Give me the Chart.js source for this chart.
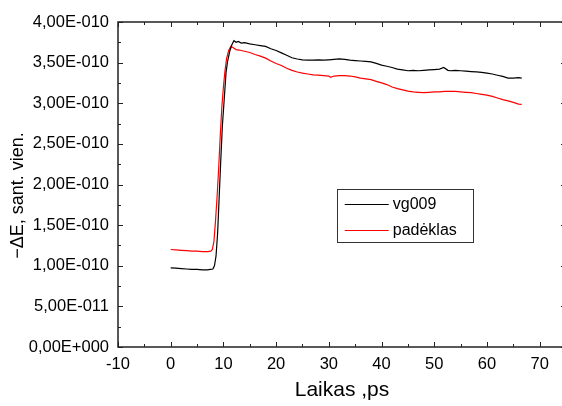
<!DOCTYPE html>
<html>
<head>
<meta charset="utf-8">
<script src="https://cdn.jsdelivr.net/npm/chart.js@4.4.1/dist/chart.umd.min.js"></script>
<style>
  html, body { margin: 0; padding: 0; background: #fff; overflow: hidden; }
  #wrap { width: 566px; height: 406px; position: relative; }
</style>
</head>
<body>
<div id="wrap"><canvas id="c"></canvas></div>
<script>
// ---- data (values in units of 1E-010) ----
const seriesNames = ['vg009', 'padėklas'];
const blackT = [0,1,2,3,4,5,6,7,7.5,8,8.3,8.6,8.9,9.2,9.5,9.8,10.1,10.5,10.8,11.2,11.6,12.0,12.4,12.8,13.4,14,15,16,17,18,19,20,21,22,23,24,25,26,27,28,29,30,31,32,33,34,35,36,37,38,39,40,41,42,43,44,45,46,47,48,49,50,51,51.8,52.6,53,54,55,56,57,58,59,60,61,62,63,64,65,66,66.6];
const blackV = [0.975,0.97,0.965,0.96,0.955,0.955,0.95,0.95,0.955,0.96,1.00,1.12,1.40,1.85,2.30,2.72,3.00,3.38,3.52,3.64,3.72,3.77,3.75,3.76,3.74,3.745,3.73,3.72,3.71,3.70,3.67,3.65,3.62,3.59,3.56,3.545,3.535,3.53,3.53,3.535,3.53,3.535,3.54,3.545,3.54,3.53,3.525,3.52,3.515,3.51,3.49,3.47,3.455,3.44,3.42,3.41,3.40,3.405,3.40,3.405,3.41,3.415,3.42,3.44,3.405,3.40,3.405,3.40,3.395,3.39,3.385,3.38,3.37,3.36,3.345,3.33,3.31,3.31,3.315,3.31];
const redT = [0,1,2,3,4,5,6,7,7.6,7.9,8.2,8.5,8.8,9.1,9.4,9.7,10.0,10.3,10.6,11.0,11.4,11.8,12.4,13,14,15,16,17,18,19,20,21,22,23,24,25,26,27,28,29,30,30.3,31,32,33,34,35,36,37,38,39,40,41,42,43,44,45,46,47,48,49,50,51,52,53,54,55,56,57,58,59,60,61,62,63,64,65,66,66.6];
const redV = [1.20,1.195,1.19,1.185,1.18,1.18,1.175,1.175,1.18,1.20,1.30,1.55,1.85,2.20,2.60,2.95,3.20,3.40,3.55,3.65,3.70,3.685,3.66,3.655,3.64,3.625,3.60,3.58,3.555,3.52,3.49,3.465,3.43,3.405,3.385,3.37,3.36,3.35,3.345,3.34,3.335,3.32,3.335,3.34,3.34,3.335,3.325,3.31,3.30,3.29,3.27,3.25,3.23,3.20,3.18,3.165,3.15,3.14,3.135,3.13,3.135,3.14,3.14,3.145,3.145,3.145,3.14,3.135,3.13,3.12,3.11,3.10,3.085,3.065,3.045,3.03,3.01,2.99,2.985];
const xTicks = [-10,0,10,20,30,40,50,60,70];
const xMinor = [-5,5,15,25,35,45,55,65];
const yTicks = [0,0.5,1,1.5,2,2.5,3,3.5,4];
const yMinor = [0.25,0.75,1.25,1.75,2.25,2.75,3.25,3.75];
const yTickLabels = ['0,00E+000','5,00E-011','1,00E-010','1,50E-010','2,00E-010','2,50E-010','3,00E-010','3,50E-010','4,00E-010'];
const xTitle = 'Laikas ,ps';
const yTitle = '\u2212\u0394E, sant. vien.';

const FONT = "'Liberation Sans', Arial, sans-serif";
const AXIS = '#222';

function pairs(t, v) { return t.map((x, i) => ({ x: x, y: v[i] })); }

const framePlugin = {
  id: 'frame',
  afterDraw(chart) {
    const { ctx, chartArea: a, scales: { x, y } } = chart;
    ctx.save();
    ctx.strokeStyle = AXIS;
    ctx.lineWidth = 1.5;
    ctx.strokeRect(a.left, a.top, a.right - a.left, a.bottom - a.top);
    ctx.lineWidth = 1;
    ctx.beginPath();
    const tx = (v, len) => {
      const p = Math.round(x.getPixelForValue(v)) + 0.5;
      ctx.moveTo(p, a.bottom); ctx.lineTo(p, a.bottom - len);
      ctx.moveTo(p, a.top); ctx.lineTo(p, a.top + len);
    };
    const ty = (v, len) => {
      const p = Math.round(y.getPixelForValue(v)) + 0.5;
      ctx.moveTo(a.left, p); ctx.lineTo(a.left + len, p);
      ctx.moveTo(a.right, p); ctx.lineTo(a.right - len, p);
    };
    xTicks.forEach(v => tx(v, 5));
    xMinor.forEach(v => tx(v, 3));
    yTicks.forEach(v => ty(v, 5));
    yMinor.forEach(v => ty(v, 3));
    ctx.stroke();

    // y axis title (slightly below centre, as in the reference)
    ctx.save();
    ctx.translate(18, (a.top + a.bottom) / 2 + 11);
    ctx.rotate(-Math.PI / 2);
    ctx.font = '18px ' + FONT;
    ctx.fillStyle = '#000';
    ctx.textAlign = 'center';
    ctx.textBaseline = 'middle';
    ctx.fillText(yTitle, 0, 0);
    ctx.restore();

    // legend box
    const lx = x.getPixelForValue(31.5), rx = x.getPixelForValue(57.3);
    const ty0 = y.getPixelForValue(1.94), by0 = y.getPixelForValue(1.29);
    ctx.fillStyle = '#fff';
    ctx.fillRect(lx, ty0, rx - lx, by0 - ty0);
    ctx.strokeStyle = '#333';
    ctx.lineWidth = 1;
    ctx.strokeRect(Math.round(lx) + 0.5, Math.round(ty0) + 0.5, Math.round(rx - lx), Math.round(by0 - ty0));
    ctx.font = '16px ' + FONT;
    ctx.textBaseline = 'middle';
    ctx.textAlign = 'left';
    chart.data.datasets.forEach((ds, i) => {
      const yy = Math.round(ty0 + 15 + i * 25.5) + 0.5;
      ctx.strokeStyle = ds.borderColor;
      ctx.lineWidth = 1.2;
      ctx.beginPath();
      ctx.moveTo(lx + 8, yy); ctx.lineTo(lx + 52, yy);
      ctx.stroke();
      ctx.fillStyle = '#000';
      ctx.fillText(ds.label, lx + 56, yy);
    });
    ctx.restore();
  }
};

new Chart(document.getElementById('c'), {
  type: 'line',
  data: {
    datasets: [
      { label: seriesNames[0], data: pairs(blackT, blackV), borderColor: '#000000', borderWidth: 1.2, pointRadius: 0, tension: 0, fill: false },
      { label: seriesNames[1], data: pairs(redT, redV), borderColor: '#ff0000', borderWidth: 1.2, pointRadius: 0, tension: 0, fill: false }
    ]
  },
  options: {
    responsive: true,
    maintainAspectRatio: false,
    animation: false,
    events: [],
    layout: { padding: { top: 22, left: 0, right: 0, bottom: 0 } },
    plugins: { legend: { display: false }, tooltip: { enabled: false } },
    scales: {
      x: {
        type: 'linear', min: -10, max: 75,
        afterBuildTicks: s => { s.ticks = xTicks.map(v => ({ value: v })); },
        afterFit: s => { s.height = 59; },
        grid: { display: false, drawTicks: false },
        border: { display: false },
        ticks: { color: '#000', padding: 8, font: { family: FONT, size: 16.5 }, maxRotation: 0, autoSkip: false, callback: v => String(v) },
        title: { display: true, text: xTitle, color: '#000', font: { family: FONT, size: 21 }, padding: { top: 0, bottom: 3 } }
      },
      y: {
        type: 'linear', min: 0, max: 4,
        afterBuildTicks: s => { s.ticks = yTicks.map(v => ({ value: v })); },
        afterFit: s => { s.width = 118; },
        grid: { display: false, drawTicks: false },
        border: { display: false },
        ticks: { color: '#000', padding: 9, font: { family: FONT, size: 16.5 }, autoSkip: false, callback: v => yTickLabels[yTicks.indexOf(v)] },
        title: { display: false, text: yTitle }
      }
    }
  },
  plugins: [framePlugin]
});
</script>
</body>
</html>
